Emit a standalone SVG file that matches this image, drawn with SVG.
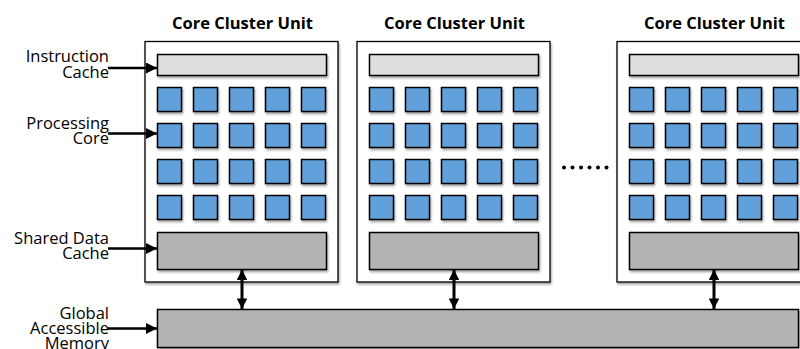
<svg xmlns="http://www.w3.org/2000/svg" width="800" height="349" viewBox="0 0 800 349">
<defs>
  <filter id="sh" x="-20%" y="-20%" width="140%" height="160%">
    <feDropShadow dx="1" dy="2" stdDeviation="1.2" flood-color="#000" flood-opacity="0.35"/>
  </filter>
  <marker id="ah" viewBox="0 0 10 10" refX="10" refY="5" markerUnits="userSpaceOnUse" markerWidth="12" markerHeight="11" orient="auto-start-reverse">
    <path d="M0,0 L10,5 L0,10 z" fill="#000"/>
  </marker>
  <marker id="ahv" viewBox="0 0 10 10" refX="10" refY="5" markerUnits="userSpaceOnUse" markerWidth="12" markerHeight="10.5" orient="auto-start-reverse">
    <path d="M0,0 L10,5 L0,10 z" fill="#000"/>
  </marker>
  <g id="cluster">
    <rect class="outer" x="145" y="41.5" width="193" height="240.5"/>
    <rect class="icache" x="157.5" y="54.5" width="169" height="21"/>
    <g class="cores">
      <rect x="157.5" y="87.5" width="24" height="24"/><rect x="193.5" y="87.5" width="24" height="24"/><rect x="229.5" y="87.5" width="24" height="24"/><rect x="265.5" y="87.5" width="24" height="24"/><rect x="301.5" y="87.5" width="24" height="24"/>
      <rect x="157.5" y="123.5" width="24" height="24"/><rect x="193.5" y="123.5" width="24" height="24"/><rect x="229.5" y="123.5" width="24" height="24"/><rect x="265.5" y="123.5" width="24" height="24"/><rect x="301.5" y="123.5" width="24" height="24"/>
      <rect x="157.5" y="159.5" width="24" height="24"/><rect x="193.5" y="159.5" width="24" height="24"/><rect x="229.5" y="159.5" width="24" height="24"/><rect x="265.5" y="159.5" width="24" height="24"/><rect x="301.5" y="159.5" width="24" height="24"/>
      <rect x="157.5" y="195.5" width="24" height="24"/><rect x="193.5" y="195.5" width="24" height="24"/><rect x="229.5" y="195.5" width="24" height="24"/><rect x="265.5" y="195.5" width="24" height="24"/><rect x="301.5" y="195.5" width="24" height="24"/>
    </g>
    <rect class="dcache" x="157.5" y="232.5" width="169" height="37"/>
    <text class="title" x="242.5" y="28.5">Core Cluster Unit</text>
  </g>
</defs>
<style>
  .outer { fill: #fff; stroke: #000; stroke-width: 1.3; filter: url(#sh); }
  .icache { fill: #dedede; stroke: #000; stroke-width: 1.5; filter: url(#sh); }
  .cores rect { fill: #62a0dc; stroke: #000; stroke-width: 1.5; filter: url(#sh); }
  .dcache, .gmem { fill: #b4b4b4; stroke: #000; stroke-width: 1.5; filter: url(#sh); }
  .title { font-family: "Open Sans", "DejaVu Sans", sans-serif; font-weight: bold; font-size: 16.5px; text-anchor: middle; fill: #000; }
  .lbl { font-family: "Open Sans", "DejaVu Sans", sans-serif; font-size: 16.5px; text-anchor: end; fill: #000; }
  .conn { stroke: #000; stroke-width: 2.3; fill: none; }
  .vconn { stroke: #000; stroke-width: 3; fill: none; }
  .dots circle { fill: #000; }
</style>

<g id="cluster1"><use href="#cluster"/></g>
<g id="cluster2"><use href="#cluster" transform="translate(212,0)"/></g>
<g id="cluster3"><use href="#cluster" transform="translate(472,0)"/></g>

<g id="global-memory">
  <rect class="gmem" x="157.5" y="309.5" width="641" height="38"/>
</g>

<g id="ellipsis" class="dots">
  <circle cx="564" cy="167.5" r="2"/><circle cx="572.5" cy="167.5" r="2"/><circle cx="581" cy="167.5" r="2"/><circle cx="589.5" cy="167.5" r="2"/><circle cx="598" cy="167.5" r="2"/><circle cx="606.5" cy="167.5" r="2"/>
</g>

<g id="labels">
  <text class="lbl" x="109" y="62">Instruction</text>
  <text class="lbl" x="109" y="77.5">Cache</text>
  <text class="lbl" x="109" y="128.5">Processing</text>
  <text class="lbl" x="109" y="143.5">Core</text>
  <text class="lbl" x="109" y="243.5">Shared Data</text>
  <text class="lbl" x="109" y="259">Cache</text>
  <text class="lbl" x="109" y="318.5">Global</text>
  <text class="lbl" x="109" y="333.5">Accessible</text>
  <text class="lbl" x="109" y="348.5">Memory</text>
</g>

<g id="connectors">
  <line class="conn" x1="108" y1="68" x2="157" y2="68" marker-end="url(#ah)"/>
  <line class="conn" x1="108" y1="133.5" x2="157" y2="133.5" marker-end="url(#ah)"/>
  <line class="conn" x1="108" y1="248.5" x2="157" y2="248.5" marker-end="url(#ah)"/>
  <line class="conn" x1="108" y1="328.5" x2="157" y2="328.5" marker-end="url(#ah)"/>
  <line class="vconn" x1="242" y1="269.5" x2="242" y2="309" marker-start="url(#ahv)" marker-end="url(#ahv)"/>
  <line class="vconn" x1="454" y1="269.5" x2="454" y2="309" marker-start="url(#ahv)" marker-end="url(#ahv)"/>
  <line class="vconn" x1="714" y1="269.5" x2="714" y2="309" marker-start="url(#ahv)" marker-end="url(#ahv)"/>
</g>
</svg>
